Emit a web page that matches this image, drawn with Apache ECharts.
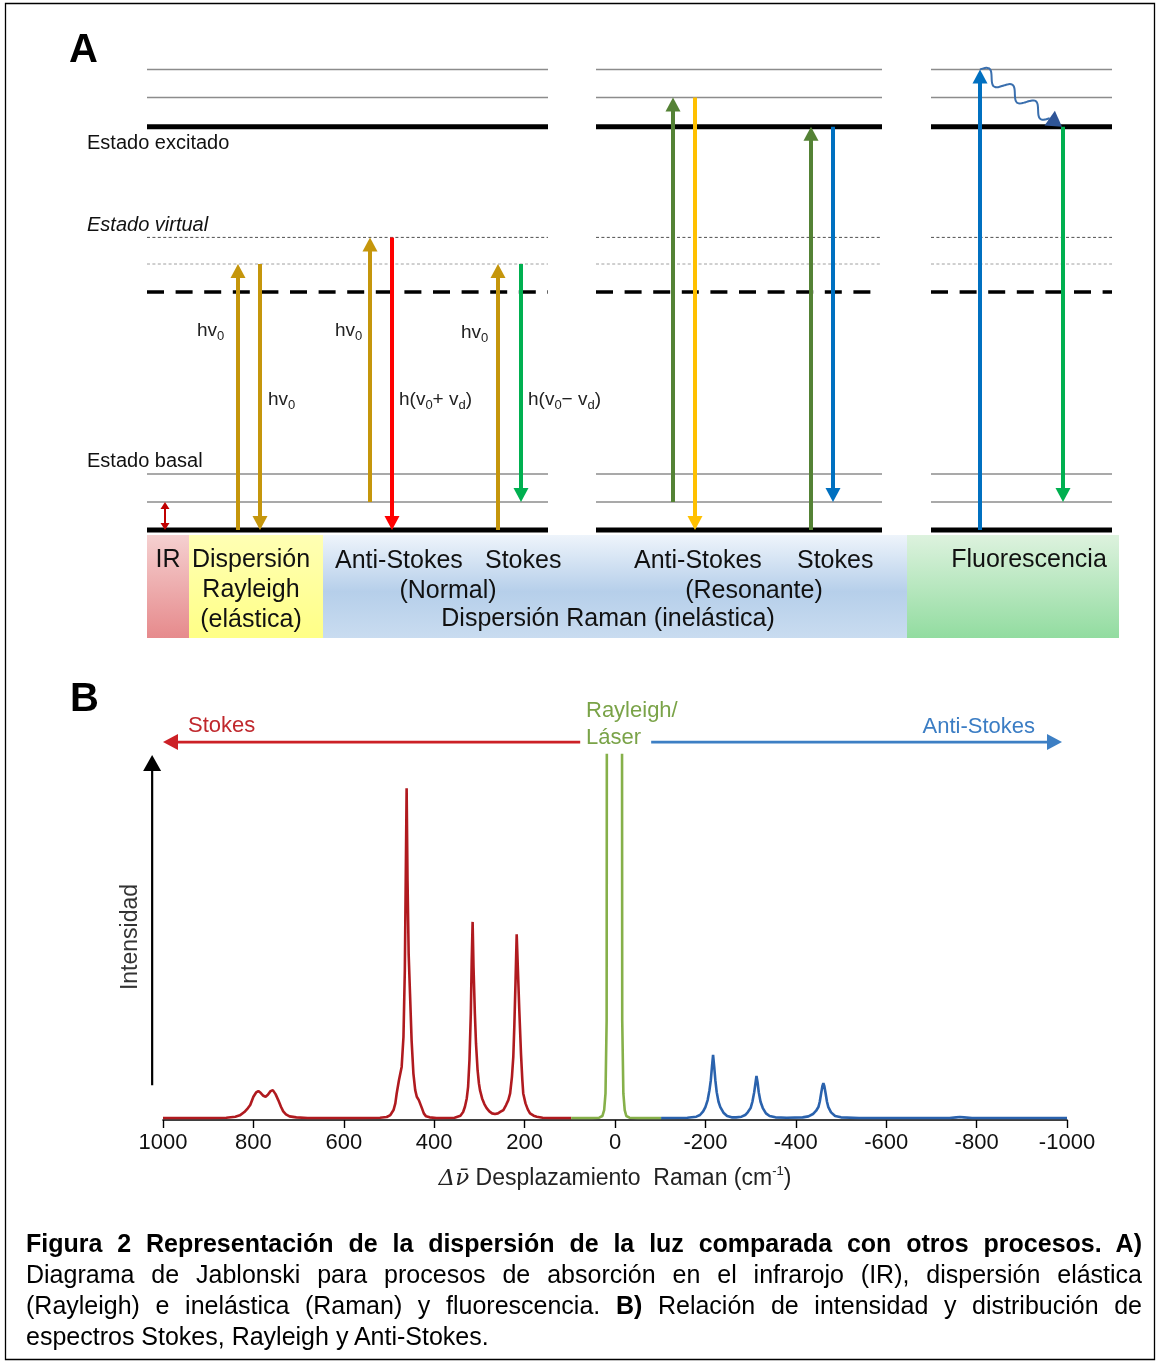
<!DOCTYPE html>
<html>
<head>
<meta charset="utf-8">
<script src="https://cdn.jsdelivr.net/npm/echarts@6/dist/echarts.min.js"></script>
<style>
html,body{margin:0;padding:0;background:#fff;}
#wrap{position:relative;width:1158px;height:1362px;overflow:hidden;}
#chart{position:absolute;left:0;top:0;width:1158px;height:1362px;}
#cap{position:absolute;left:26px;top:1228px;width:1116px;font-family:'Liberation Sans',Arial,Helvetica,sans-serif;font-size:25px;line-height:31px;color:#000;}
#cap .j{text-align:justify;text-align-last:justify;}
</style>
</head>
<body>
<div id="wrap">
  <div id="chart"></div>
  <div id="cap">
    <div class="j"><b>Figura 2 Representación de la dispersión de la luz comparada con otros procesos. A)</b></div>
    <div class="j">Diagrama de Jablonski para procesos de absorción en el infrarojo (IR), dispersión elástica</div>
    <div class="j">(Rayleigh) e inelástica (Raman) y fluorescencia. <b>B)</b> Relación de intensidad y distribución de</div>
    <div>espectros Stokes, Rayleigh y Anti-Stokes.</div>
  </div>
</div>
<script>
// ================= DATA =================
// ---- Panel A: Jablonski diagram (energies in arbitrary units, ground state = 0) ----
const vibLevels = [0, 1, 2];                  // ground electronic state + vibrational levels
const virtualLevels = [8.5, 9.5, 10.45];      // virtual states
const excitedLevels = [14.4, 15.45, 16.45];   // excited electronic state + vibrational levels
const blockSpans = [[0, 401], [449, 735], [784, 965]]; // diagram blocks (horizontal units)
// transitions: [x, fromEnergy, toEnergy, kind]
const transitionKinds = ['ir', 'laser', 'antiStokes', 'stokes', 'resExc', 'resAntiStokes', 'resStokes', 'fluoExc', 'fluoEm'];
const transitions = [
  [18, 0, 1, 'ir'],
  [91, 0, 9.5, 'laser'],
  [113, 9.5, 0, 'laser'],
  [223, 1, 10.45, 'laser'],
  [245, 10.45, 0, 'antiStokes'],
  [351, 0, 9.5, 'laser'],
  [374, 9.5, 1, 'stokes'],
  [526, 1, 15.45, 'resExc'],
  [548, 15.45, 0, 'resAntiStokes'],
  [664, 0, 14.4, 'resExc'],
  [686, 14.4, 1, 'resStokes'],
  [833, 0, 16.45, 'fluoExc'],
  [916, 14.4, 1, 'fluoEm']
];
// non-radiative relaxation: [x0, E0, x1, E1]
const relaxation = [[833, 16.45, 915, 14.4]];
const bandNames = ['IR', 'Rayleigh', 'Raman', 'Fluorescencia'];
const bandSpans = [[0, 42], [42, 176], [176, 760], [760, 972]];

// ---- Panel B: Raman spectrum [Raman shift (cm-1), intensity (a.u.)] ----
const stokesSpectrum = [
  [1000,0.6],[900,0.6],[860,0.7],[840,1],[830,1.4],[820,2.4],[812,3.6],[807,4.5],[800,7],[794,8.3],[789,8.7],
  [784,8.2],[778,7.3],[773,7],[768,7.6],[762,8.7],[757,9],[751,7.8],[745,6],[739,4],[734,2.6],[728,1.7],
  [720,1.1],[705,0.8],[680,0.6],[560,0.6],[520,0.7],[505,0.9],[497,1.5],[490,3],[486,5],[483,8],[478,12],
  [472,16],[468,25],[465,45],[463,72],[461,100],[459,72],[456.5,50],[453.5,38],[450,24],[446,14],[442,9],
  [438.5,7],[434,6],[431,5.4],[427,3.5],[423,2],[418,1.1],[410,0.8],[395,0.6],[355,0.7],[342,1.3],[336,2.4],
  [332,4],[328,6.5],[325,10],[322,18],[319,32],[317,48],[315,59.7],[313,46],[310,32],[307.5,23],[304,15],
  [301,11],[298.7,9],[294,6.5],[289,4.8],[284,3.6],[278,2.6],[272,2],[265.5,1.8],[259,2],[253,2.5],[247,3],
  [241,4.5],[236,6],[232,8],[228,13],[225,19],[222.8,28],[220,42],[217.5,56],[215,46],[211.7,33],[208,20],
  [205,12],[203,8],[198,5],[193,3.2],[188,2],[180,1.3],[173,1],[160,0.7],[140,0.6],[97,0.6]
];
const rayleighSpectrum = [
  [97,0.6],[50,0.6],[35,0.7],[28,1.2],[24,3],[21,8],[18.5,30],[16.5,400],[1,1000],
  [-14,400],[-16,30],[-18.5,8],[-21.5,3],[-25,1.2],[-32,0.7],[-50,0.6],[-102,0.6]
];
const antiStokesSpectrum = [
  [-102,0.6],[-160,0.7],[-180,1],[-188,1.5],[-195,2.6],[-200,3.9],[-205,6],[-209,9],[-212,12],[-214.5,16],
  [-217,19.6],[-219.5,16],[-222,12],[-225,8.4],[-229,5.5],[-233,3.9],[-240,2.2],[-248,1.2],[-258,0.8],
  [-268,0.8],[-280,1],[-288,1.5],[-294,2.4],[-300,3.6],[-304,5.5],[-308,8.4],[-311,11.3],[-313,13.3],
  [-315.5,11.3],[-318,8.4],[-322,5.5],[-327,3.6],[-334,2],[-342,1.2],[-355,0.8],[-380,0.7],[-415,0.8],
  [-428,1.1],[-438,1.8],[-445,2.8],[-450,3.9],[-453,5.5],[-456,8],[-459,10.3],[-461,11.1],[-463,10.3],
  [-466,8],[-469,5.5],[-472,3.9],[-478,2.3],[-487,1.2],[-500,0.8],[-540,0.6],[-740,0.6],[-755,0.8],
  [-763,0.9],[-772,0.8],[-790,0.6],[-1000,0.6]
];
const shiftTicks = [1000, 800, 600, 400, 200, 0, -200, -400, -600, -800, -1000];
// decorative direction arrows of panel B, in data units: [x0, y0, x1, y1, kind]
const spectrumArrows = [
  [1024, 10.5, 1024, 110, 0],   // intensity axis arrow
  [77, 113.9, 1000, 113.9, 1],  // Stokes direction
  [-80, 113.9, -989, 113.9, 2]  // Anti-Stokes direction
];

// ================= STYLES =================
const FF = "'Liberation Sans', Arial, Helvetica, sans-serif";
const levelStyles = [
  {stroke:'#000', lineWidth:5},                                // 0 thick
  {stroke:'#8c8c8c', lineWidth:1.5},                           // 1 thin
  {stroke:'#000', lineWidth:3.5, lineDash:[17,11.6]},          // 2 dashed
  {stroke:'#a0a0a0', lineWidth:1, lineDash:[3,2.4]},           // 3 dotted light
  {stroke:'#505050', lineWidth:1, lineDash:[3,2.4]}            // 4 dotted dark
];
const arrowStyles = {
  ir:            {color:'#c00000', w:2,   hl:7,  hw:4.5, double:true},
  laser:         {color:'#c5960c', w:4,   hl:14, hw:7.5},
  antiStokes:    {color:'#ff0000', w:4,   hl:14, hw:7.5},
  stokes:        {color:'#00b050', w:4,   hl:14, hw:7.5},
  resExc:        {color:'#548235', w:4,   hl:14, hw:7.5},
  resAntiStokes: {color:'#ffc000', w:4,   hl:14, hw:7.5},
  resStokes:     {color:'#0070c0', w:4,   hl:14, hw:7.5},
  fluoExc:       {color:'#0070c0', w:4,   hl:14, hw:7.5},
  fluoEm:        {color:'#00b050', w:4,   hl:14, hw:7.5}
};
const specArrowStyles = [
  {color:'#000000', w:2.2, hl:16, hw:9},
  {color:'#cc2026', w:2.8, hl:15, hw:8},
  {color:'#3d7fc4', w:2.8, hl:15, hw:8}
];
const bandFills = [
  [[0,'#f5d0d0'],[1,'#e68a8c']],
  [[0,'#ffffb4'],[1,'#ffff86']],
  [[0,'#eef4fb'],[0.55,'#b6cfea'],[1,'#c9dcf0']],
  [[0,'#ddf2de'],[1,'#92dca0']]
];

// ================= BUILD =================
const levelData = [];
const levelSets = [[vibLevels,[0,1,1]],[virtualLevels,[2,3,4]],[excitedLevels,[0,1,1]]];
blockSpans.forEach(function (b) {
  levelSets.forEach(function (set) {
    set[0].forEach(function (e, i) { levelData.push([b[0], b[1], e, set[1][i]]); });
  });
});
const transitionData = transitions.map(function (t) {
  return [t[0], t[1], t[2], transitionKinds.indexOf(t[3])];
});
const bandData = bandSpans.map(function (s, i) { return [s[0], s[1], -0.18, -3.86, i]; });

function arrowChildren(p0, p1, st) {
  const dx = p1[0]-p0[0], dy = p1[1]-p0[1], L = Math.hypot(dx, dy);
  const ux = dx/L, uy = dy/L, nx = -uy, ny = ux;
  function head(tip, sx, sy) {
    return {type:'polygon', shape:{points:[
      [tip[0], tip[1]],
      [tip[0]-sx*st.hl+nx*st.hw, tip[1]-sy*st.hl+ny*st.hw],
      [tip[0]-sx*st.hl-nx*st.hw, tip[1]-sy*st.hl-ny*st.hw]
    ]}, style:{fill:st.color}};
  }
  const s = st.double ? [p0[0]+ux*st.hl*0.8, p0[1]+uy*st.hl*0.8] : p0;
  const e = [p1[0]-ux*st.hl*0.8, p1[1]-uy*st.hl*0.8];
  const ch = [{type:'line', shape:{x1:s[0], y1:s[1], x2:e[0], y2:e[1]}, style:{stroke:st.color, lineWidth:st.w, fill:null}}, head(p1, ux, uy)];
  if (st.double) ch.push(head(p0, -ux, -uy));
  return ch;
}

function renderLevel(params, api) {
  const a = api.coord([api.value(0), api.value(2)]);
  const b = api.coord([api.value(1), api.value(2)]);
  const st = levelStyles[api.value(3)];
  return {type:'line', shape:{x1:a[0], y1:a[1], x2:b[0], y2:b[1]}, style:Object.assign({fill:null}, st)};
}
function renderTransition(params, api) {
  const x = api.value(0);
  const p0 = api.coord([x, api.value(1)]), p1 = api.coord([x, api.value(2)]);
  const st = arrowStyles[transitionKinds[api.value(3)]];
  return {type:'group', children:arrowChildren(p0, p1, st)};
}
function renderWave(params, api) {
  const p0 = api.coord([api.value(0), api.value(1)]);
  const p1 = api.coord([api.value(2), api.value(3)]);
  const hl = 15, hw = 9;
  const dx = p1[0]-p0[0], dy = p1[1]-p0[1], L = Math.hypot(dx, dy);
  const ux = dx/L, uy = dy/L, nx = -uy, ny = ux;
  const base = [p1[0]-ux*hl, p1[1]-uy*hl];
  const pts = [];
  const N = 80, periods = 3, amp = 6;
  for (let i = 0; i <= N; i++) {
    const t = i/N;
    const off = -amp*Math.sin(2*Math.PI*periods*t);
    pts.push([p0[0]+(base[0]-p0[0])*t + nx*off, p0[1]+(base[1]-p0[1])*t + ny*off]);
  }
  return {type:'group', children:[
    {type:'polyline', shape:{points:pts, smooth:0.3}, style:{stroke:'#3a6fae', lineWidth:2, fill:null}},
    {type:'polygon', shape:{points:[[p1[0],p1[1]],[base[0]+nx*hw, base[1]+ny*hw],[base[0]-nx*hw, base[1]-ny*hw]]}, style:{fill:'#2f5597'}}
  ]};
}
function renderBand(params, api) {
  const a = api.coord([api.value(0), api.value(2)]);
  const b = api.coord([api.value(1), api.value(3)]);
  const stops = bandFills[api.value(4)].map(function (s) { return {offset:s[0], color:s[1]}; });
  return {type:'rect', shape:{x:a[0], y:a[1], width:b[0]-a[0], height:b[1]-a[1]},
    style:{fill:new echarts.graphic.LinearGradient(0,0,0,1,stops)}};
}
function renderSpecArrow(params, api) {
  const p0 = api.coord([api.value(0), api.value(1)]);
  const p1 = api.coord([api.value(2), api.value(3)]);
  return {type:'group', children:arrowChildren(p0, p1, specArrowStyles[api.value(4)])};
}

// ---- text annotations ----
function txt(x, y, text, o) {
  return {type:'text', x:x, y:y, silent:true, z:50,
    style:Object.assign({text:text, fontFamily:FF, fontSize:20, fill:'#111', align:'left', verticalAlign:'middle'}, o || {})};
}
const subRich = {s:{fontSize:13, lineHeight:10, verticalAlign:'bottom', fontFamily:FF, fill:'#222'}};
const hvStyle = {fontSize:19, lineHeight:24, fill:'#222', rich:subRich};
const graphics = [
  {type:'rect', shape:{x:5.5, y:3.5, width:1149, height:1356}, style:{fill:null, stroke:'#000', lineWidth:1.3}, silent:true, z:60},
  txt(69, 51, 'A', {fontSize:40, fontWeight:'bold', fill:'#000'}),
  txt(87, 143, 'Estado excitado'),
  txt(87, 225, 'Estado virtual', {fontStyle:'italic'}),
  txt(87, 461, 'Estado basal'),
  txt(197, 331, 'hv{s|0}', hvStyle),
  txt(268, 400, 'hv{s|0}', hvStyle),
  txt(335, 331, 'hv{s|0}', hvStyle),
  txt(461, 333, 'hv{s|0}', hvStyle),
  txt(399, 400, 'h(v{s|0}+ v{s|d})', hvStyle),
  txt(528, 400, 'h(v{s|0}\u2212 v{s|d})', hvStyle),
  txt(168, 560, 'IR', {fontSize:25, align:'center'}),
  txt(251, 560, 'Dispersión', {fontSize:25, align:'center'}),
  txt(251, 590, 'Rayleigh', {fontSize:25, align:'center'}),
  txt(251, 620, '(elástica)', {fontSize:25, align:'center'}),
  txt(335, 561, 'Anti-Stokes', {fontSize:25}),
  txt(485, 561, 'Stokes', {fontSize:25}),
  txt(448, 591, '(Normal)', {fontSize:25, align:'center'}),
  txt(608, 619, 'Dispersión Raman (inelástica)', {fontSize:25, align:'center'}),
  txt(634, 561, 'Anti-Stokes', {fontSize:25}),
  txt(797, 561, 'Stokes', {fontSize:25}),
  txt(754, 591, '(Resonante)', {fontSize:25, align:'center'}),
  txt(1029, 560, 'Fluorescencia', {fontSize:25, align:'center'}),
  txt(70, 700, 'B', {fontSize:40, fontWeight:'bold', fill:'#000'}),
  txt(188, 726, 'Stokes', {fontSize:22, fill:'#c0282d'}),
  txt(586, 711, 'Rayleigh/', {fontSize:22, fill:'#7aa348'}),
  txt(586, 738, 'Láser', {fontSize:22, fill:'#7aa348'}),
  txt(1035, 727, 'Anti-Stokes', {fontSize:22, fill:'#3b7dc4', align:'right'}),
  {type:'text', x:131, y:937, rotation:Math.PI/2, silent:true, z:50,
    style:{text:'Intensidad', fontFamily:FF, fontSize:23, fill:'#333', align:'center', verticalAlign:'middle'}}
];

const option = {
  animation:false,
  backgroundColor:'#ffffff',
  textStyle:{fontFamily:FF},
  grid:[
    {left:147, right:38, top:26, height:616},
    {left:163, right:91, top:755, bottom:242}
  ],
  xAxis:[
    {gridIndex:0, type:'value', min:0, max:973, show:false},
    {gridIndex:1, type:'value', min:-1000, max:1000, interval:200, inverse:true,
      axisLine:{show:true, lineStyle:{color:'#000', width:1.6}},
      axisTick:{show:true, inside:false, length:8, lineStyle:{color:'#000', width:1.4}},
      axisLabel:{fontSize:22, color:'#111', margin:12, fontFamily:FF,
        formatter:function (v) { return String(v); }},
      splitLine:{show:false},
      name:'{i|\u0394\u03BD\u0304} Desplazamiento  Raman (cm{sup|-1})',
      nameLocation:'middle', nameGap:45,
      nameTextStyle:{fontSize:23, color:'#222', fontFamily:FF, lineHeight:28,
        rich:{i:{fontSize:23, fontStyle:'italic', fontFamily:"'DejaVu Serif', serif", color:'#222'},
              sup:{fontSize:13, lineHeight:10, verticalAlign:'top', color:'#222', fontFamily:FF}}}
    }
  ],
  yAxis:[
    {gridIndex:0, type:'value', min:-4, max:18, show:false},
    {gridIndex:1, type:'value', min:0, max:110, show:false}
  ],
  graphic:graphics,
  series:[
    {type:'custom', name:'bands', xAxisIndex:0, yAxisIndex:0, renderItem:renderBand, data:bandData,
      encode:{x:[0,1], y:[2,3]}, z:1, silent:true},
    {type:'custom', name:'levels', xAxisIndex:0, yAxisIndex:0, renderItem:renderLevel, data:levelData,
      encode:{x:[0,1], y:2}, z:2, silent:true},
    {type:'custom', name:'transitions', xAxisIndex:0, yAxisIndex:0, renderItem:renderTransition, data:transitionData,
      encode:{x:0, y:[1,2]}, z:3, silent:true},
    {type:'custom', name:'relaxation', xAxisIndex:0, yAxisIndex:0, renderItem:renderWave, data:relaxation,
      encode:{x:[0,2], y:[1,3]}, z:3, silent:true},
    {type:'line', name:'Stokes', xAxisIndex:1, yAxisIndex:1, data:stokesSpectrum, showSymbol:false,
      lineStyle:{color:'#b01a1f', width:2.6}, itemStyle:{color:'#b01a1f'}, clip:true, z:5},
    {type:'line', name:'Rayleigh', xAxisIndex:1, yAxisIndex:1, data:rayleighSpectrum, showSymbol:false,
      lineStyle:{color:'#86b04a', width:2.6}, itemStyle:{color:'#86b04a'}, clip:true, z:5},
    {type:'line', name:'Anti-Stokes', xAxisIndex:1, yAxisIndex:1, data:antiStokesSpectrum, showSymbol:false,
      lineStyle:{color:'#2a62ad', width:2.6}, itemStyle:{color:'#2a62ad'}, clip:true, z:5},
    {type:'custom', name:'arrowsB', xAxisIndex:1, yAxisIndex:1, renderItem:renderSpecArrow, data:spectrumArrows,
      encode:{x:[0,2], y:[1,3]}, clip:false, z:6, silent:true}
  ]
};
const chart = echarts.init(document.getElementById('chart'), null, {renderer:'canvas'});
chart.setOption(option);
</script>
</body>
</html>
